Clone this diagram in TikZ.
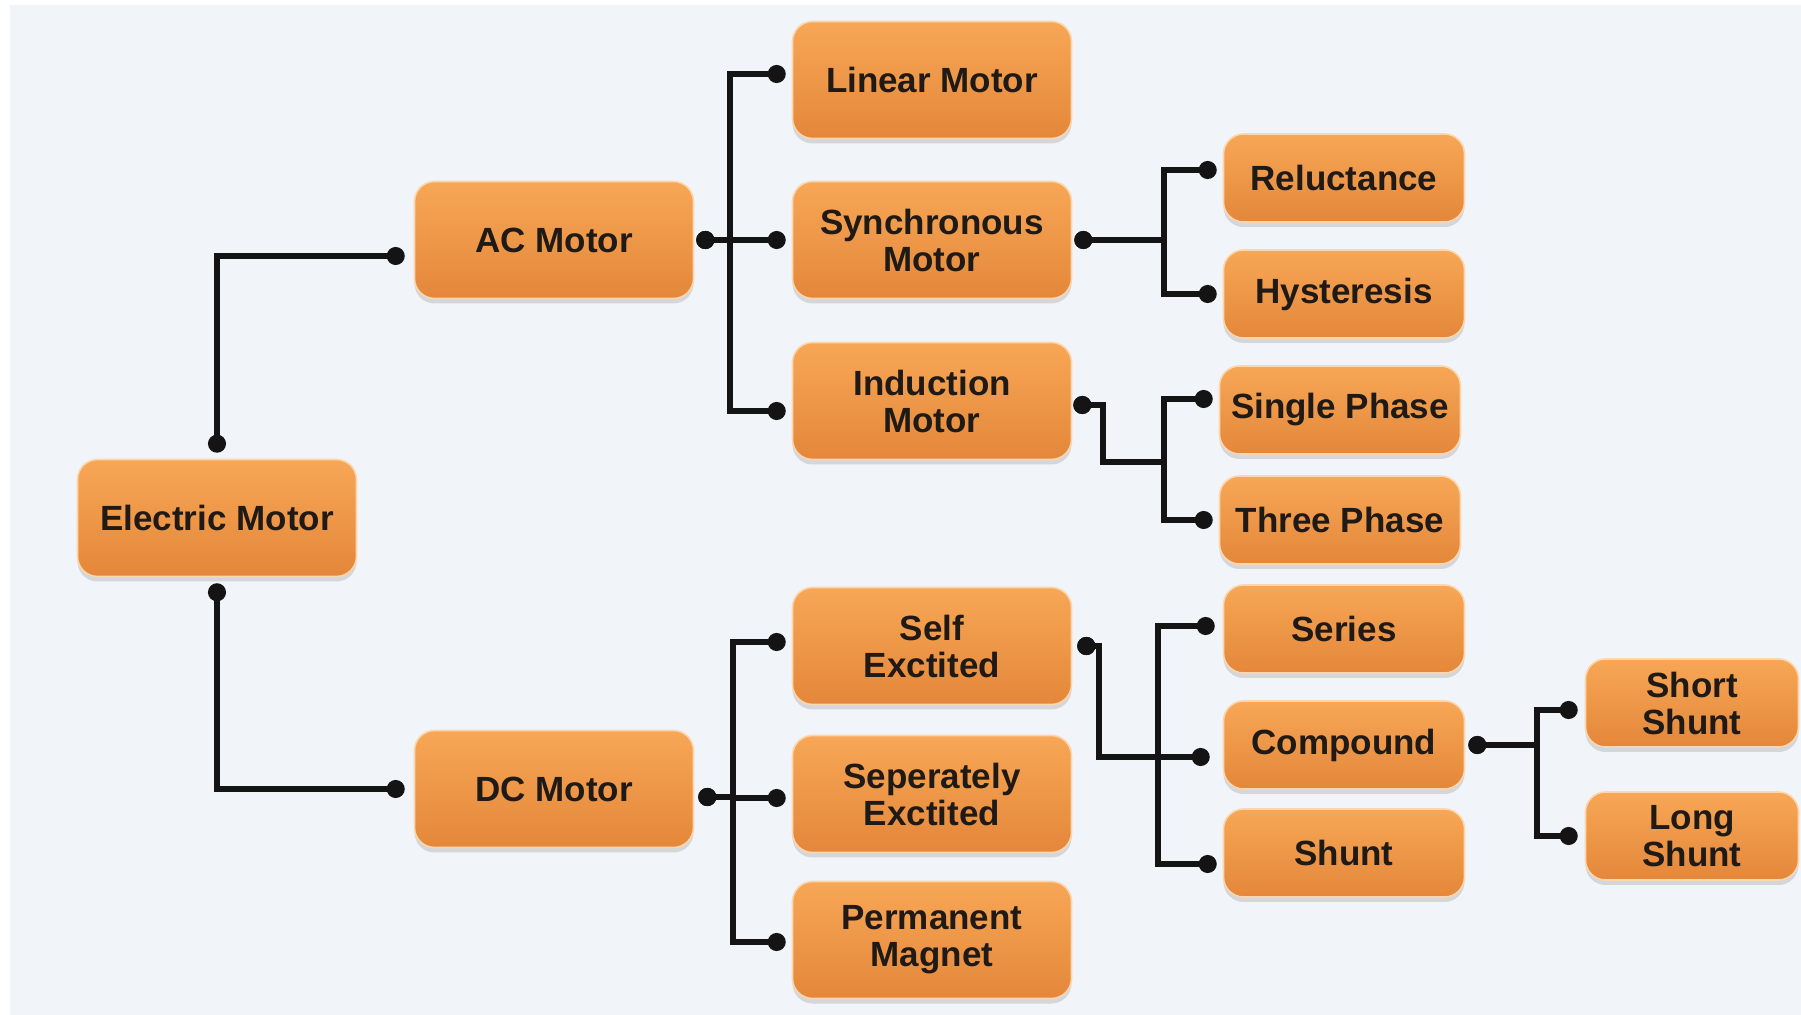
\documentclass[tikz,border=0pt]{standalone}
\usepackage{fontspec}
\setmainfont{Liberation Sans}
\definecolor{canvas}{HTML}{F1F4F8}
\definecolor{orangetop}{HTML}{F7A756}
\definecolor{orangebot}{HTML}{E4873A}
\definecolor{orangeedge}{HTML}{FBD6AE}
\definecolor{inkdark}{HTML}{1F1A16}
\definecolor{wirecol}{HTML}{141414}
\usetikzlibrary{arrows.meta,positioning,calc,shadows}

\tikzset{
  motor/.style={rounded corners=10pt, draw=orangeedge, line width=0.8pt,
    top color=orangetop, bottom color=orangebot, text=inkdark, align=center,
    font=\fontsize{17.5}{18.5}\selectfont\bfseries, inner sep=2pt,
    drop shadow={opacity=0.25, shadow xshift=0pt, shadow yshift=-2.5pt}},
  bigbox/.style={motor, minimum width=139.5pt, minimum height=58.5pt},
  smallbox/.style={motor, minimum width=120.5pt, minimum height=44pt},
  leafbox/.style={motor, minimum width=106.5pt, minimum height=44pt},
  wire/.style={draw=wirecol, line width=2.7pt, line join=miter,
    {Circle[length=9pt]}-{Circle[length=9pt]}},
}

\begin{document}
\begin{tikzpicture}[x=0.5pt, y=-0.5pt]
  \useasboundingbox (0,0) rectangle (1801,1015);
  \fill[white] (0,0) rectangle (1801,1015);
  \fill[canvas] (10,5) rectangle (1801,1015);

  % boxes
  \node[bigbox] (em) at (217,518) {Electric Motor};
  \node[bigbox] (ac) at (554,240) {AC Motor};
  \node[bigbox] (dc) at (554,789) {DC Motor};
  \node[bigbox] (lin) at (932,80) {Linear Motor};
  \node[bigbox] (syn) at (932,240) {Synchronous\\Motor};
  \node[bigbox] (ind) at (932,401) {Induction\\Motor};
  \node[bigbox] (self) at (932,646) {Self\\Exctited};
  \node[bigbox] (sep) at (932,794) {Seperately\\Exctited};
  \node[bigbox] (perm) at (932,940) {Permanent\\Magnet};
  \node[smallbox] (rel) at (1344,178) {Reluctance};
  \node[smallbox] (hys) at (1344,294) {Hysteresis};
  \node[smallbox] (sp) at (1340,410) {Single Phase};
  \node[smallbox] (tp) at (1340,520) {Three Phase};
  \node[smallbox] (ser) at (1344,629) {Series};
  \node[smallbox] (comp) at (1344,745) {Compound};
  \node[smallbox] (shu) at (1344,853) {Shunt};
  \node[leafbox] (ss) at (1692,703) {Short\\Shunt};
  \node[leafbox] (ls) at (1692,836) {Long\\Shunt};

  % bus lines
  \coordinate (acbus) at (730,0);
  \coordinate (dcbus) at (733,0);
  \coordinate (synbus) at (1164,0);
  \coordinate (indbus) at (1164,0);
  \coordinate (indkink) at (1103,462);
  \coordinate (selfbus) at (1158,0);
  \coordinate (selfkink) at (1099,757);
  \coordinate (compbus) at (1537,0);

  \draw[wire] ([yshift=3pt]em.north) |- ([shift={(-4.5pt,-8pt)}]ac.west);
  \draw[wire] ([yshift=-3pt]em.south) |- ([xshift=-4.5pt]dc.west);

  \foreach \kid/\dy in {lin/3pt, syn/0pt, ind/-5pt}
    \draw[wire] ([xshift=1pt]ac.east) -- (ac.east -| acbus) |- ([shift={(-3pt,\dy)}]\kid.west);
  \foreach \kid/\dy in {self/2pt, sep/-2pt, perm/-1pt}
    \draw[wire] ([shift={(2pt,-4pt)}]dc.east) -- ([yshift=-4pt]dc.east -| dcbus) |- ([shift={(-3pt,\dy)}]\kid.west);

  \draw[wire] ([xshift=1pt]syn.east) -- (syn.east -| synbus) |- ([shift={(-3pt,4pt)}]rel.west);
  \draw[wire] ([xshift=1pt]syn.east) -- (syn.east -| synbus) |- ([xshift=-3pt]hys.west);

  \draw[wire] ([shift={(0.5pt,-2pt)}]ind.east) -| (indkink) -- (indkink -| indbus) |- ([shift={(-3pt,5.5pt)}]sp.west);
  \draw[wire] ([shift={(0.5pt,-2pt)}]ind.east) -| (indkink) -- (indkink -| indbus) |- ([xshift=-3pt]tp.west);

  \draw[wire] ([xshift=2.5pt]self.east) -| (selfkink) -- ([shift={(-6.5pt,-6pt)}]comp.west);
  \draw[wire] ([xshift=2.5pt]self.east) -| (selfkink) -- (selfkink -| selfbus) |- ([shift={(-4pt,1.5pt)}]ser.west);
  \draw[wire] ([xshift=2.5pt]self.east) -| (selfkink) -- (selfkink -| selfbus) |- ([shift={(-3pt,-5.5pt)}]shu.west);

  \draw[wire] ([xshift=1.5pt]comp.east) -- (comp.east -| compbus) |- ([shift={(-3.5pt,-3.5pt)}]ss.west);
  \draw[wire] ([xshift=1.5pt]comp.east) -- (comp.east -| compbus) |- ([xshift=-3.5pt]ls.west);
\end{tikzpicture}
\end{document}
